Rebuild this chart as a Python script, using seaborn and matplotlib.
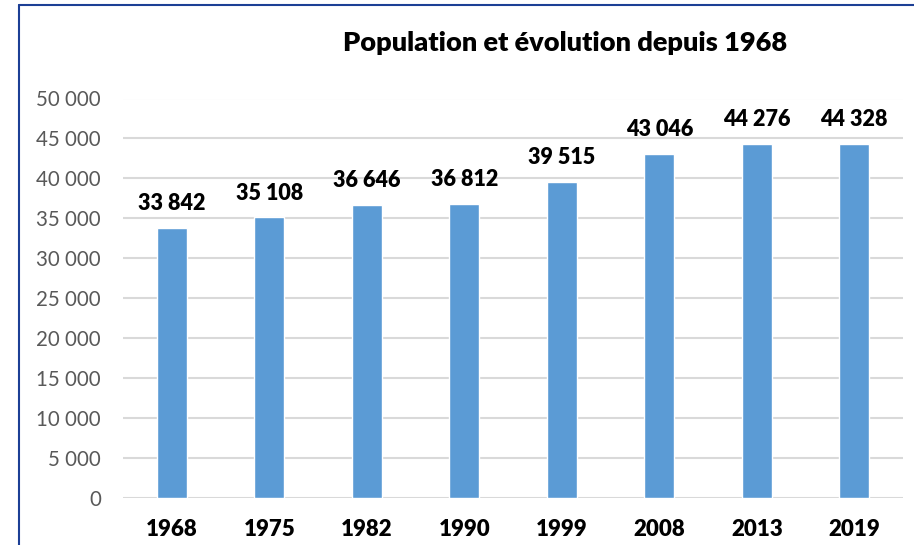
import matplotlib
matplotlib.use("Agg")
import matplotlib.pyplot as plt
import seaborn as sns
import pandas as pd
from matplotlib.lines import Line2D

years = ["1968", "1975", "1982", "1990", "1999", "2008", "2013", "2019"]
population = [33842, 35108, 36646, 36812, 39515, 43046, 44276, 44328]
yticks = [0, 5000, 10000, 15000, 20000, 25000, 30000, 35000, 40000, 45000, 50000]
title = "Population et évolution depuis 1968"

def fmt(v):
    return f"{v:,}".replace(",", " ")

sns.set_theme(style="white")
plt.rcParams['font.family'] = ['Lato', 'DejaVu Sans']

df = pd.DataFrame({"year": years, "pop": population})

fig = plt.figure(figsize=(9.14, 5.45), dpi=100)
ax = fig.add_axes([123/914, 1 - 498/545, (903-123)/914, (498-98.5)/545])

sns.barplot(data=df, x="year", y="pop", color="#5b9bd5", saturation=1, width=0.31, ax=ax, zorder=3)

ax.set_ylim(0, 50000)
ax.set_xlim(-0.5, len(years) - 0.5)
ax.set_yticks(yticks)
ax.set_yticklabels([fmt(v) for v in yticks], color="#595959", fontsize=14.8)
ax.set_xticks(range(len(years)))
ax.set_xticklabels(years, fontsize=16, fontweight="heavy", color="black")
ax.tick_params(axis="both", length=0)
ax.tick_params(axis="y", pad=16)
ax.tick_params(axis="x", pad=15)
ax.set_xlabel("")
ax.set_ylabel("")
ax.yaxis.grid(True, color="#d9d9d9", linewidth=1.5, zorder=0)
for s in ax.spines.values():
    s.set_visible(False)

for i, v in enumerate(population):
    ax.annotate(fmt(v), (i, v), xytext=(0, 10), textcoords="offset points",
                ha="center", va="bottom", fontsize=15.5, fontweight="heavy", color="black")

fig.text(565/914, 1 - 43/545, title, ha="center", va="center", fontsize=19.5, fontweight="heavy", color="black")

# border
bc = "#1c3f95"
fig.add_artist(Line2D([18.5/914, 18.5/914], [0, 1 - 4.7/545], color=bc, linewidth=1.5, transform=fig.transFigure))
fig.add_artist(Line2D([18.5/914, 1], [1 - 4.7/545, 1 - 4.7/545], color=bc, linewidth=1.5, transform=fig.transFigure))

fig.savefig("out.png", dpi=100)
